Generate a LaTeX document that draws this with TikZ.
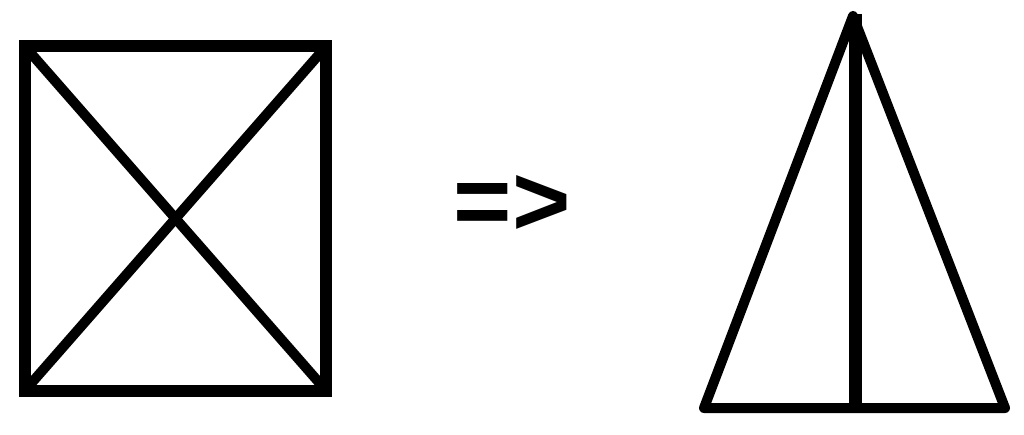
\documentclass[tikz,border=0pt]{standalone}
\usepackage{fontspec}
\setmainfont{Liberation Sans}

\begin{document}
\begin{tikzpicture}[x=1pt,y=-1pt]
\useasboundingbox (0,0) rectangle (1024,435);
\draw[line width=12] (25,46) rectangle (326,391);
\draw[line width=10] (28,50)--(323,387);
\draw[line width=10] (323,50)--(28,387);
\node (arrow) at (512,205) {\fontsize{100}{100}\selectfont\bfseries =>};
\draw[line width=10,line join=round,line cap=round] (853,16)--(704,408)--(1005,408)--cycle;
\draw[line width=13] (855,14)--(855,413);
\end{tikzpicture}
\end{document}
